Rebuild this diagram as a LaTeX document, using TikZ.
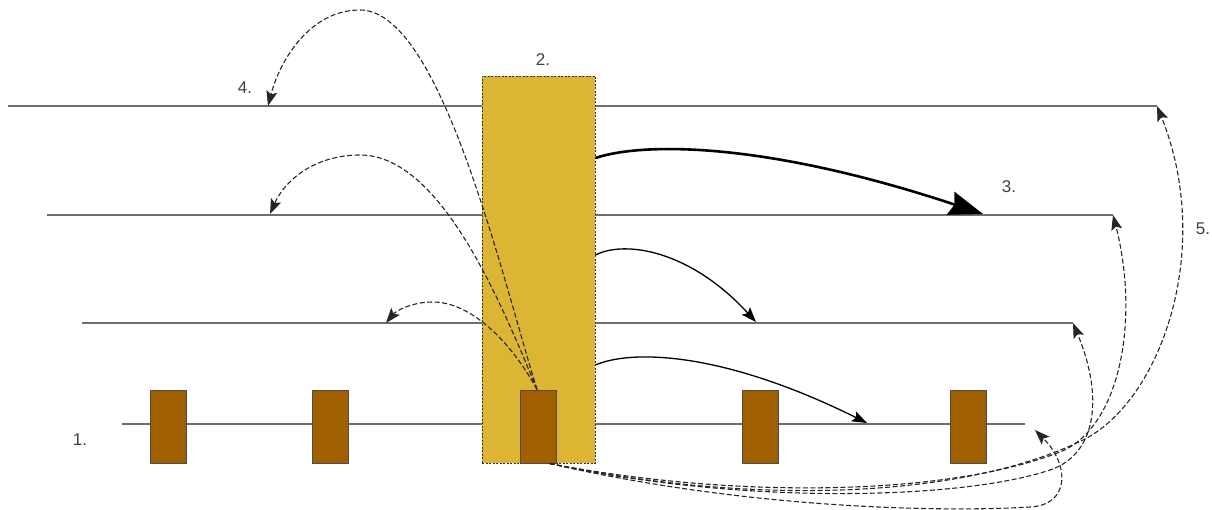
\documentclass[tikz,border=0pt]{standalone}
\usepackage{fontspec}
\setmainfont{Liberation Sans}
\usetikzlibrary{arrows.meta}
\definecolor{gold}{RGB}{221,181,53}
\definecolor{brn}{RGB}{160,96,0}
\definecolor{railgray}{RGB}{110,110,110}
\tikzset{
  rail/.style={draw=railgray,line width=2pt},
  goldbox/.style={draw=black!80,fill=gold,dash pattern=on 2pt off 1.5pt,line width=0.9pt,minimum width=113pt,minimum height=387pt,inner sep=0pt},
  brownbox/.style={draw=black!70,fill=brn,line width=1pt,minimum width=36pt,minimum height=73pt,inner sep=0pt},
  lbl/.style={font=\fontsize{17}{20}\selectfont,text=black!75,inner sep=0pt},
  dasharr/.style={draw=black!85,line width=1.1pt,dash pattern=on 5pt off 2.5pt,-{Stealth[length=15pt,width=11pt,inset=3pt]}},
  solidarr/.style={draw=black,line width=1.3pt,-{Stealth[length=15pt,width=11pt,inset=3pt]}},
  thickarr/.style={draw=black,line width=2.6pt,-{Stealth[length=34pt,width=24pt,inset=4pt]}}
}
\begin{document}
\begin{tikzpicture}[x=1pt,y=-1pt]
\useasboundingbox (0,0) rectangle (1212,510);
% rails
\coordinate (r1s) at (8,106);   \coordinate (r1e) at (1157,106);
\coordinate (r2s) at (47,215);  \coordinate (r2e) at (1113,215);
\coordinate (r3s) at (82,323);  \coordinate (r3e) at (1073,323);
\coordinate (r4s) at (122,424); \coordinate (r4e) at (1025,424);
\draw[rail] (r1s) -- (r1e);
\draw[rail] (r2s) -- (r2e);
\draw[rail] (r3s) -- (r3e);
\draw[rail] (r4s) -- (r4e);
% gold box
\node[goldbox] (gb) at (538.5,269.5) {};
% brown boxes
\node[brownbox] (b1) at (168,426.5) {};
\node[brownbox] (b2) at (330,426.5) {};
\node[brownbox] (cb) at (538,426.5) {};
\node[brownbox] (b4) at (760,426.5) {};
\node[brownbox] (b5) at (968,426.5) {};
% labels
\node[lbl] (l1) at (80,440) {1.};
\node[lbl] (l2) at (543,60) {2.};
\node[lbl] (l3) at (1009,187) {3.};
\node[lbl] (l4) at (245,88) {4.};
\node[lbl] (l5) at (1203,229) {5.};
% targets on rails
\coordinate (t1) at (268,106);
\coordinate (t2) at (270,214);
\coordinate (t3) at (386,323);
\coordinate (s3) at (983,214);
\coordinate (s2) at (756,322);
\coordinate (s1) at (867,423);
\coordinate (top) at ([xshift=-1pt]cb.north);
\coordinate (bot) at ([xshift=-7pt]cb.south east);
\coordinate (e1) at ([yshift=111.5pt]gb.east);
\coordinate (e2) at ([yshift=14.5pt]gb.east);
\coordinate (e3) at ([yshift=-95.5pt]gb.east);
\coordinate (t4) at ([xshift=10pt,yshift=-6pt]r4e);
% dashed arcs to the left
\draw[dasharr] (top) .. controls (500,270) and (440,10) .. (360,10)
   .. controls (310,10) and (280,60) .. (t1);
\draw[dasharr] (top) .. controls (500,300) and (440,155) .. (360,155)
   .. controls (315,155) and (285,180) .. (t2);
\draw[dasharr] (top) .. controls (510,340) and (470,302) .. (433,302)
   .. controls (410,302) and (395,312) .. (t3);
% solid arrows to the right
\draw[thickarr] (e1) .. controls (640,143) and (760,140) .. (s3);
\draw[solidarr] (e2) .. controls (625,240) and (690,250) .. (s2);
\draw[solidarr] (e3) .. controls (630,350) and (720,350) .. (s1);
% dashed arcs round the right
\draw[dasharr] (bot) .. controls (750,505) and (960,500) .. (1083,440)
   .. controls (1160,402) and (1215,250) .. (r1e);
\draw[dasharr] (bot) .. controls (740,500) and (950,495) .. (1060,452)
   .. controls (1120,428) and (1140,320) .. (r2e);
\draw[dasharr] (bot) .. controls (740,505) and (960,500) .. (1050,470)
   .. controls (1095,455) and (1105,400) .. (r3e);
\draw[dasharr] (bot) .. controls (750,510) and (950,512) .. (1030,507)
   .. controls (1070,505) and (1070,465) .. (t4);
\end{tikzpicture}
\end{document}
